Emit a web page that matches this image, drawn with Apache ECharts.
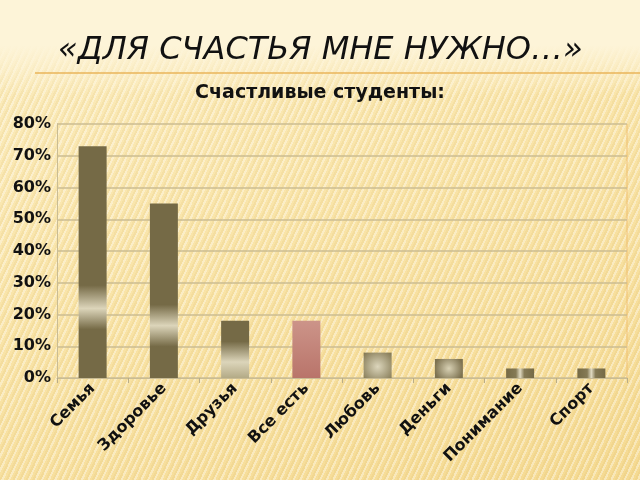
<!DOCTYPE html>
<html lang="ru">
  <head>
    <meta charset="UTF-8" />
    <title>Для счастья мне нужно</title>
    <script src="https://cdn.jsdelivr.net/npm/echarts@6/dist/echarts.min.js"></script>
    <style>
      html, body { margin: 0; padding: 0; }
      body {
        width: 640px;
        height: 480px;
        background:
          linear-gradient(to bottom, #fdf4d8 0, #fdf4d8 45px, rgba(253, 244, 216, 0) 95px),
          repeating-linear-gradient(115deg, rgba(255, 255, 255, 0.35) 0 2px, rgba(255, 255, 255, 0) 2px 4px, rgba(190, 150, 60, 0.08) 4px 6px),
          linear-gradient(160deg, #fbecbe 0%, #f9e4a8 45%, #f5da92 100%);
      }
    </style>
  </head>
  <body>
    <div id="main" style="width: 640px; height: 480px"></div>
    <script type="text/javascript">
      // Data
      const categories = ['Семья', 'Здоровье', 'Друзья', 'Все есть', 'Любовь', 'Деньги', 'Понимание', 'Спорт'];
      const shares = [0.73, 0.55, 0.18, 0.18, 0.08, 0.06, 0.03, 0.03];
      const yTicks = ['0%', '10%', '20%', '30%', '40%', '50%', '60%', '70%', '80%'];

      const dark = '#756a46';
      const light = '#dcd5ba';

      // vertical band: where the light stripe sits along the bar (0 = top)
      function band(a, c, b) {
        return {
          type: 'linear', x: 0, y: 0, x2: 0, y2: 1,
          colorStops: [
            { offset: 0, color: dark }, { offset: a, color: dark },
            { offset: c, color: light }, { offset: b, color: dark },
            { offset: 1, color: dark }
          ]
        };
      }
      const stripe = {
        type: 'linear', x: 0, y: 0, x2: 1, y2: 0,
        colorStops: [
          { offset: 0, color: dark }, { offset: 0.35, color: '#857a55' },
          { offset: 0.5, color: '#e0dac2' }, { offset: 0.65, color: '#857a55' },
          { offset: 1, color: dark }
        ]
      };
      const looks = [
        band(0.6, 0.7, 0.79),
        band(0.58, 0.7, 0.82),
        { type: 'linear', x: 0, y: 0, x2: 0, y2: 1,
          colorStops: [
            { offset: 0, color: dark }, { offset: 0.36, color: dark },
            { offset: 0.72, color: light }, { offset: 1, color: '#b3aa86' }
          ] },
        { type: 'linear', x: 0, y: 0, x2: 0, y2: 1,
          colorStops: [{ offset: 0, color: '#cc9489' }, { offset: 1, color: '#b9746a' }] },
        { type: 'radial', x: 0.5, y: 0.55, r: 0.75,
          colorStops: [{ offset: 0, color: '#dcd6bc' }, { offset: 1, color: '#837853' }] },
        { type: 'radial', x: 0.5, y: 0.5, r: 0.75,
          colorStops: [{ offset: 0, color: '#d8d1b4' }, { offset: 1, color: '#7d7250' }] },
        stripe,
        stripe
      ];

      const chart = echarts.init(document.getElementById('main'));

      chart.setOption({
        backgroundColor: 'transparent',
        animation: false,
        title: [
          {
            text: '«ДЛЯ СЧАСТЬЯ МНЕ НУЖНО…»',
            left: 53,
            top: 30,
            textStyle: {
              fontFamily: 'DejaVu Sans',
              fontStyle: 'oblique',
              fontWeight: 'normal',
              fontSize: 32,
              color: '#111'
            }
          },
          {
            text: 'Счастливые студенты:',
            left: 'center',
            top: 79,
            textStyle: {
              fontFamily: 'DejaVu Sans',
              fontWeight: 'bold',
              fontSize: 19,
              color: '#111'
            }
          }
        ],
        graphic: [
          {
            type: 'line',
            shape: { x1: 35, y1: 73, x2: 640, y2: 73 },
            style: { stroke: '#eab45a', lineWidth: 1.5 }
          },
          {
            type: 'line',
            shape: { x1: 627, y1: 124, x2: 627, y2: 378 },
            style: { stroke: '#f0c070', lineWidth: 1 }
          }
        ],
        grid: { left: 57, right: 13, top: 124, bottom: 102 },
        xAxis: {
          type: 'category',
          data: categories,
          axisLine: { lineStyle: { color: '#c9bc94' } },
          axisTick: { show: true, lineStyle: { color: '#b9ad88' } },
          axisLabel: {
            rotate: 45,
            interval: 0,
            margin: 8,
            fontFamily: 'DejaVu Sans',
            fontWeight: 'bold',
            fontSize: 16,
            color: '#111'
          }
        },
        yAxis: {
          type: 'value',
          min: 0,
          max: 0.8,
          interval: 0.1,
          axisLine: { show: true, lineStyle: { color: '#c9bc94' } },
          axisTick: { show: false },
          splitLine: { lineStyle: { color: '#cbbd92', width: 1.5 } },
          axisLabel: {
            formatter: (v) => yTicks[Math.round(v * 10)],
            margin: 6,
            fontFamily: 'DejaVu Sans',
            fontWeight: 'bold',
            fontSize: 16,
            color: '#111'
          }
        },
        series: [
          {
            type: 'bar',
            barWidth: 28,
            data: shares.map((v, i) => ({ value: v, itemStyle: { color: looks[i] } }))
          }
        ]
      });
    </script>
  </body>
</html>
